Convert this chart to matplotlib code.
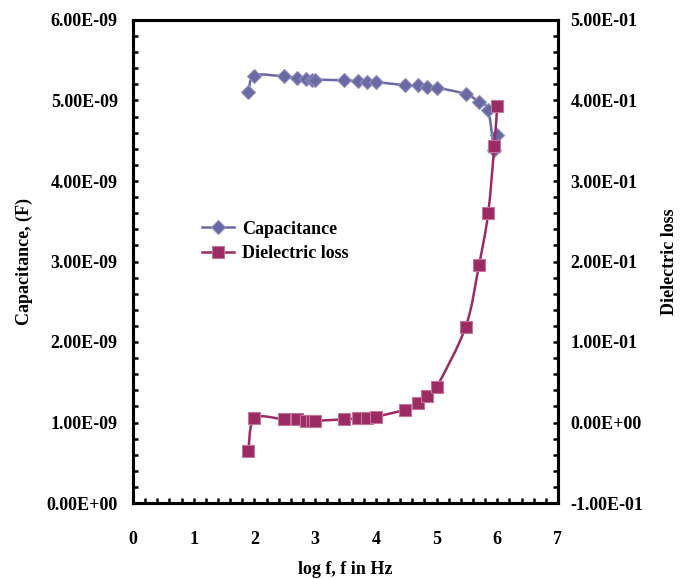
import matplotlib
matplotlib.use("Agg")
import matplotlib.pyplot as plt
import numpy as np
from matplotlib.path import Path
from matplotlib.patches import PathPatch
from matplotlib.lines import Line2D
from matplotlib.ticker import MultipleLocator, FuncFormatter

plt.rcParams['font.family'] = ['Liberation Serif', 'DejaVu Serif']
plt.rcParams['font.weight'] = 'bold'

# ---- data ----
log_f = [1.90, 2.00, 2.48, 2.70, 2.85, 2.95, 3.00, 3.48, 3.70, 3.85, 4.00,
         4.48, 4.70, 4.85, 5.00, 5.48, 5.70, 5.85, 5.95, 6.00]
capacitance = [5.10e-9, 5.31e-9, 5.30e-9, 5.28e-9, 5.27e-9, 5.26e-9, 5.26e-9,
               5.25e-9, 5.24e-9, 5.23e-9, 5.23e-9, 5.19e-9, 5.19e-9, 5.17e-9,
               5.16e-9, 5.08e-9, 4.98e-9, 4.88e-9, 4.39e-9, 4.57e-9]
dielectric_loss = [-0.036, 0.005, 0.004, 0.004, 0.002, 0.002, 0.002, 0.004,
                   0.005, 0.005, 0.007, 0.016, 0.024, 0.033, 0.044, 0.119,
                   0.196, 0.260, 0.343, 0.393]
series_names = ["Capacitance", "Dielectric loss"]

cap_color = "#6A6AA2"
cap_edge = "#8E8EC0"
loss_color = "#9B2C63"
loss_edge = "#C2749A"


def smooth_path(x, y, t=1.0 / 6.0):
    x = np.asarray(x, float)
    y = np.asarray(y, float)
    n = len(x)
    verts = [(x[0], y[0])]
    codes = [Path.MOVETO]
    for i in range(n - 1):
        i0 = max(i - 1, 0)
        i3 = min(i + 2, n - 1)
        c1 = (x[i] + (x[i + 1] - x[i0]) * t, y[i] + (y[i + 1] - y[i0]) * t)
        c2 = (x[i + 1] - (x[i3] - x[i]) * t, y[i + 1] - (y[i3] - y[i]) * t)
        verts += [c1, c2, (x[i + 1], y[i + 1])]
        codes += [Path.CURVE4] * 3
    return Path(verts, codes)


fig = plt.figure(figsize=(6.81, 5.79), dpi=100)
ax = fig.add_axes([133 / 681, 1 - 503 / 579, (558 - 133) / 681, (503 - 20) / 579])
ax2 = ax.twinx()

# capacitance
ax.add_patch(PathPatch(smooth_path(log_f, capacitance), facecolor='none',
                       edgecolor=cap_color, lw=1.8, zorder=2))
ax.plot(log_f, capacitance, ls='none', marker='D', ms=7.5, mfc=cap_color,
        mec=cap_edge, mew=0.8, zorder=3)

# dielectric loss
ax2.add_patch(PathPatch(smooth_path(log_f, dielectric_loss), facecolor='none',
                        edgecolor=loss_color, lw=1.8, zorder=2))
ax2.plot(log_f, dielectric_loss, ls='none', marker='s', ms=8, mfc=loss_color,
         mec=loss_edge, mew=0.8, zorder=3)

ax.set_xlim(0, 7)
ax.set_ylim(0, 6e-9)
ax2.set_ylim(-0.1, 0.5)

ax.xaxis.set_major_locator(MultipleLocator(1))
ax.xaxis.set_minor_locator(MultipleLocator(0.2))
ax.yaxis.set_major_locator(MultipleLocator(1e-9))
ax.yaxis.set_minor_locator(MultipleLocator(0.2e-9))
ax2.yaxis.set_major_locator(MultipleLocator(0.1))
ax2.yaxis.set_minor_locator(MultipleLocator(0.02))

fmt = FuncFormatter(lambda v, p: f"{v:.2E}")
ax.yaxis.set_major_formatter(fmt)
ax2.yaxis.set_major_formatter(FuncFormatter(lambda v, p: f"{v:.2E}" if abs(v) > 1e-12 else "0.00E+00"))
ax.xaxis.set_major_formatter(FuncFormatter(lambda v, p: f"{v:.0f}"))

for a in (ax, ax2):
    for s in a.spines.values():
        s.set_linewidth(2.2)

ax.tick_params(axis='both', which='both', direction='in', length=3.5, width=1.8,
               labelsize=13, top=False, right=False)
ax.tick_params(axis='y', pad=11)
ax.tick_params(axis='x', pad=20)
ax2.tick_params(axis='y', which='both', direction='in', length=3.5, width=1.8,
                labelsize=13, pad=9)
for lab in ax.get_xticklabels() + ax.get_yticklabels() + ax2.get_yticklabels():
    lab.set_fontweight('bold')

ax.set_xlabel("log f, f in Hz", fontsize=13, fontweight='bold', labelpad=9.5)
ax.set_ylabel("Capacitance, (F)", fontsize=13, fontweight='bold', labelpad=10)
ax2.set_ylabel("Dielectric loss", fontsize=13, fontweight='bold', labelpad=13)

handles = [
    Line2D([], [], color=cap_color, lw=1.8, marker='D', ms=7.5, mfc=cap_color,
           mec=cap_edge, mew=0.8),
    Line2D([], [], color=loss_color, lw=1.8, marker='s', ms=8, mfc=loss_color,
           mec=loss_edge, mew=0.8),
]
ax2.legend(handles, series_names, loc='upper left',
           bbox_to_anchor=(56 / 425, 1 - (208 - 20) / 483), frameon=False,
           prop={'family': 'Liberation Serif', 'weight': 'bold', 'size': 13},
           handlelength=1.8, handletextpad=0.45, labelspacing=0.4, borderpad=0.2)

fig.savefig("out.png", dpi=100)
